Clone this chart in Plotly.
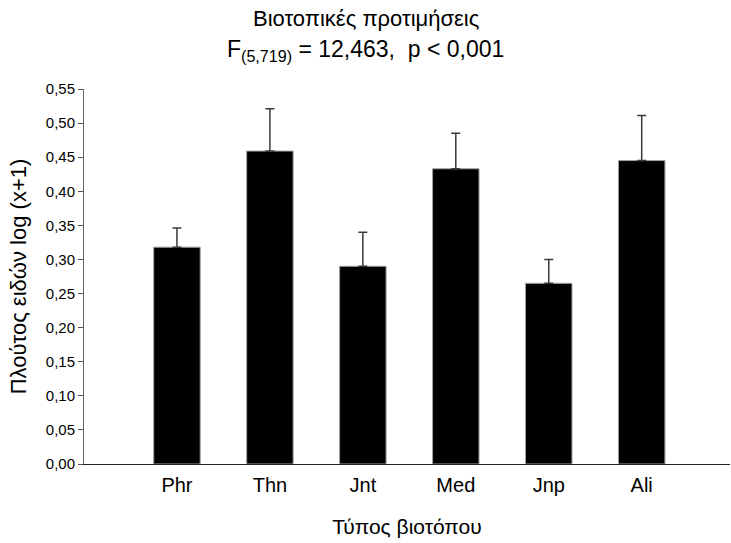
import plotly.graph_objects as go

# Habitat types and mean species richness log(x+1) with upper standard error
habitats = ["Phr", "Thn", "Jnt", "Med", "Jnp", "Ali"]
richness = [0.318, 0.459, 0.290, 0.433, 0.265, 0.445]
std_err = [0.028, 0.062, 0.050, 0.052, 0.035, 0.066]

y_ticks = [i * 0.05 for i in range(12)]

FONT = "Liberation Sans, Arial, sans-serif"
PLOT_LEFT, PLOT_W = 84, 646
page_center = (731 / 2 - PLOT_LEFT) / PLOT_W

fig = go.Figure()
fig.add_trace(go.Bar(
    x=list(range(len(habitats))),
    y=richness,
    width=0.5,
    marker=dict(color="black", line=dict(color="#a0a0a0", width=1)),
    error_y=dict(
        type="data",
        symmetric=False,
        array=std_err,
        arrayminus=[0] * len(std_err),
        color="#3a3a3a",
        thickness=1.5,
        width=4.5,
    ),
    showlegend=False,
))

fig.update_layout(
    width=731,
    height=543,
    margin=dict(l=PLOT_LEFT, r=1, t=89, b=79),
    paper_bgcolor="white",
    plot_bgcolor="white",
    separators=",.",
    font=dict(family=FONT, color="black"),
    annotations=[
        dict(text="Βιοτοπικές προτιμήσεις", xref="paper", yref="paper",
             x=page_center, y=1, yshift=56, xanchor="center", yanchor="bottom",
             showarrow=False, font=dict(size=22, family=FONT)),
        dict(text="F<sub>(5,719)</sub> = 12,463,  p < 0,001", xref="paper", yref="paper",
             x=page_center, y=1, yshift=22, xanchor="center", yanchor="bottom",
             showarrow=False, font=dict(size=23, family=FONT)),
    ],
)

fig.update_xaxes(
    range=[-1, 5.95],
    tickmode="array",
    tickvals=list(range(len(habitats))),
    ticktext=habitats,
    tickfont=dict(size=20, family=FONT),
    ticks="",
    ticklabelstandoff=3,
    showline=True,
    linecolor="#222222",
    linewidth=1.2,
    showgrid=False,
    zeroline=False,
    title=dict(text="Τύπος βιοτόπου", font=dict(size=21, family=FONT), standoff=24),
)

fig.update_yaxes(
    range=[0, 0.55],
    tickmode="array",
    tickvals=y_ticks,
    tickformat=".2f",
    tickfont=dict(size=15, family=FONT),
    ticks="outside",
    ticklen=5,
    tickcolor="#555555",
    showline=True,
    linecolor="#666666",
    linewidth=1,
    showgrid=False,
    zeroline=False,
    title=dict(text="Πλούτος ειδών log (x+1)", font=dict(size=22, family=FONT), standoff=13),
)

fig.write_html("out.html")
